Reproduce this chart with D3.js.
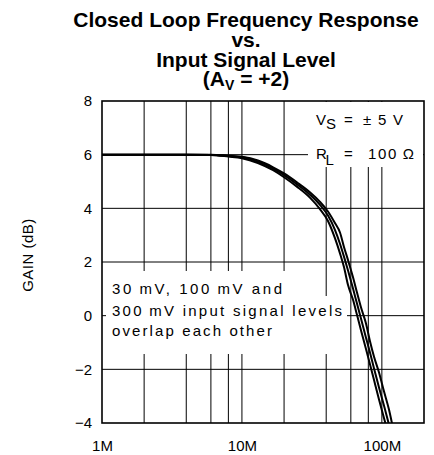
<!DOCTYPE html>
<html>
<head>
<meta charset="utf-8">
<script src="https://cdn.jsdelivr.net/npm/d3@7/dist/d3.min.js"></script>
<style>
  html, body { margin: 0; padding: 0; background: #fff; }
  svg { display: block; }
  .lbl { font-family: "Liberation Sans", Arial, sans-serif; font-size: 15px; fill: #000; }
  .title { font-family: "Liberation Sans", Arial, sans-serif; font-weight: bold; font-size: 21px; fill: #000; }
</style>
</head>
<body>
<svg id="chart" width="434" height="455"></svg>
<script>
// Frequency points (MHz) and gain (dB) for the three input levels
const freqMHz   = [1, 2, 4, 6, 8, 10, 13, 16.7, 20, 24.7, 30.6, 36, 41.2, 46.2, 50.2, 53.6, 57.3, 62.2, 66.4, 70.9, 77, 82.3, 87.9, 95.4, 103.5, 112.4, 120];
const gain30mV  = [6.0, 6.0, 6.0, 6.0, 5.96, 5.92, 5.78, 5.53, 5.30, 4.97, 4.60, 4.25, 3.88, 3.45, 3.10, 2.56, 2.07, 1.43, 0.86, 0.31, -0.29, -0.96, -1.53, -2.12, -2.82, -3.50, -4.19];
const gain100mV = [6.0, 6.0, 6.0, 5.99, 5.95, 5.91, 5.74, 5.48, 5.24, 4.90, 4.51, 4.14, 3.73, 3.20, 2.68, 2.20, 1.68, 1.01, 0.45, -0.11, -0.82, -1.38, -1.97, -2.68, -3.35, -4.06, -4.66];
const gain300mV = [6.0, 6.0, 6.0, 5.99, 5.93, 5.87, 5.69, 5.42, 5.16, 4.81, 4.40, 3.98, 3.53, 2.89, 2.32, 1.81, 1.14, 0.59, 0.03, -0.54, -1.24, -1.82, -2.40, -3.12, -3.81, -4.51, -5.07];

// Axis ticks and grid
const yTicks = [8, 6, 4, 2, 0, -2, -4];
const yGrid = [6, 4, 2, 0, -2];
const xTickValues = [1, 10, 100];
const xTickLabels = ["1M", "10M", "100M"];
const xGrid = [2, 4, 6, 8, 10, 20, 40, 60, 80, 100];

const titleLines = ["Closed Loop Frequency Response", "vs.", "Input Signal Level"];
const noteLines = ["30\u2009mV, 100\u2009mV and", "300\u2009mV input signal levels", "overlap each other"];

const svg = d3.select("#chart");
const L = 102, R = 424, T = 101, B = 423;

const x = d3.scaleLog().domain([1, 200]).range([L, R]);
const y = d3.scaleLinear().domain([-4, 8]).range([B, T]);

// Title
const tx = 246;
const title = svg.append("g").attr("class", "title").attr("text-anchor", "middle");
title.append("text").attr("x", tx).attr("y", 27).text(titleLines[0]);
title.append("text").attr("x", tx).attr("y", 47).text(titleLines[1]);
title.append("text").attr("x", tx).attr("y", 67).text(titleLines[2]);
const t4 = title.append("text").attr("x", tx).attr("y", 86);
t4.append("tspan").text("(A");
t4.append("tspan").attr("font-size", "14px").attr("dy", 4).text("V");
t4.append("tspan").attr("dy", -4).text(" = +2)");

// Grid
const grid = svg.append("g").attr("stroke", "#000").attr("stroke-width", 1).attr("fill", "none");
grid.selectAll("line.v").data(xGrid).join("line")
  .attr("class", "v")
  .attr("x1", d => x(d)).attr("x2", d => x(d))
  .attr("y1", T).attr("y2", B);
grid.selectAll("line.h").data(yGrid).join("line")
  .attr("class", "h")
  .attr("x1", L).attr("x2", R)
  .attr("y1", d => y(d)).attr("y2", d => y(d));

// White panels behind the in-plot notes
const panels = svg.append("g").attr("fill", "#fff");
panels.append("rect").attr("x", 308).attr("y", T + 1).attr("width", R - 308 - 1).attr("height", 65);
panels.append("rect").attr("x", 106).attr("y", 271).attr("width", 180).attr("height", 26);
panels.append("rect").attr("x", 106).attr("y", 296).attr("width", 241).attr("height", 58);

// Curves
svg.append("clipPath").attr("id", "plotClip")
  .append("rect").attr("x", L).attr("y", T).attr("width", R - L).attr("height", B - T);

const line = d3.line()
  .x((d, i) => x(freqMHz[i]))
  .y(d => y(d))
  .curve(d3.curveMonotoneX);

svg.append("g").attr("clip-path", "url(#plotClip)")
  .selectAll("path").data([gain30mV, gain100mV, gain300mV]).join("path")
  .attr("d", line)
  .attr("fill", "none")
  .attr("stroke", "#000")
  .attr("stroke-width", 2);

// Frame
svg.append("rect").attr("x", L).attr("y", T).attr("width", R - L).attr("height", B - T)
  .attr("fill", "none").attr("stroke", "#000").attr("stroke-width", 1.6);

// Axes labels
const yAxis = svg.append("g").attr("transform", `translate(${L},0)`)
  .call(d3.axisLeft(y).tickValues(yTicks).tickSize(0).tickPadding(10)
    .tickFormat(d => d < 0 ? "\u2212" + Math.abs(d) : String(d)));
yAxis.select(".domain").remove();
yAxis.selectAll("text").attr("class", "lbl").attr("font-family", null).attr("font-size", null);

const xAxis = svg.append("g").attr("transform", `translate(0,${B})`)
  .call(d3.axisBottom(x).tickValues(xTickValues).tickSize(0).tickPadding(17)
    .tickFormat((d, i) => xTickLabels[i]));
xAxis.select(".domain").remove();
xAxis.selectAll("text").attr("class", "lbl").attr("font-family", null).attr("font-size", null);

svg.append("text").attr("class", "lbl")
  .attr("transform", "translate(33,255) rotate(-90)")
  .attr("text-anchor", "middle")
  .attr("letter-spacing", 0.5)
  .text("GAIN (dB)");

// Supply / load note
const cond = svg.append("g").attr("class", "lbl");
cond.append("text").attr("x", 316).attr("y", 124.5).text("V");
cond.append("text").attr("x", 326).attr("y", 129).text("S");
cond.append("text").attr("x", 344).attr("y", 124.5).text("=");
cond.append("text").attr("x", 363).attr("y", 124.5)
  .attr("textLength", 40).attr("lengthAdjust", "spacing").text("\u00b15V");
cond.append("text").attr("x", 316).attr("y", 159).text("R");
cond.append("text").attr("x", 325.5).attr("y", 165).text("L");
cond.append("text").attr("x", 344).attr("y", 159).text("=");
cond.append("text").attr("x", 368).attr("y", 159)
  .attr("textLength", 46).attr("lengthAdjust", "spacing").text("100\u2009\u03a9");

// Signal level note
const noteWidths = [170, 230, 160];
const noteBase = [294, 315.5, 335.5];
svg.append("g").attr("class", "lbl").selectAll("text").data(noteLines).join("text")
  .attr("x", 112)
  .attr("y", (d, i) => noteBase[i])
  .attr("textLength", (d, i) => noteWidths[i])
  .attr("lengthAdjust", "spacing")
  .text(d => d);
</script>
</body>
</html>
